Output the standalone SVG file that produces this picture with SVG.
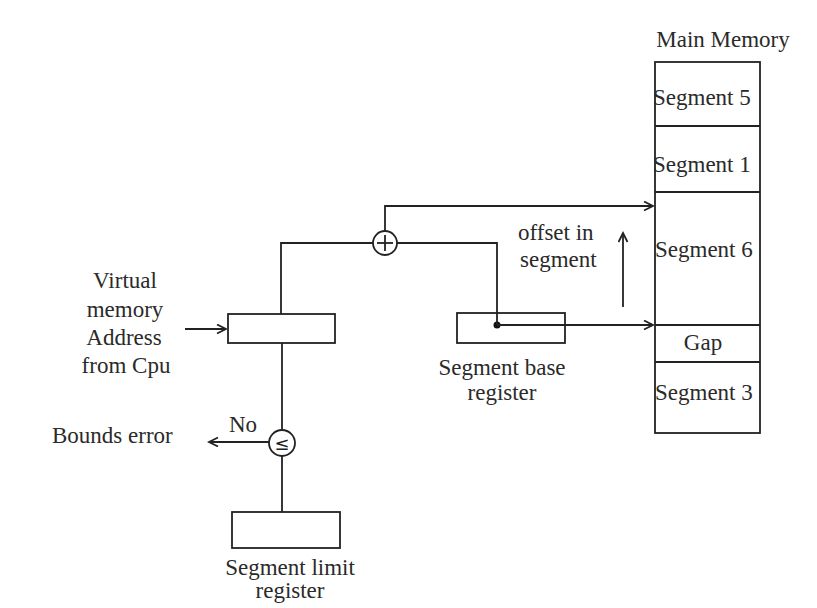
<svg xmlns="http://www.w3.org/2000/svg" width="817" height="608" viewBox="0 0 817 608">
  <style>
    .box { fill: none; stroke: #222; stroke-width: 1.8; }
    .wire { fill: none; stroke: #222; stroke-width: 1.8; }
    .lbl { font-family: "Liberation Serif", "Times New Roman", serif; font-size: 23px; fill: #2a2a2a; }
    .mid { text-anchor: middle; }
  </style>
  <defs>
    <marker id="arrow" markerUnits="userSpaceOnUse" markerWidth="12" markerHeight="12" refX="10" refY="5" orient="auto">
      <path d="M1,0.5 L10,5 L1,9.5" fill="none" stroke="#222" stroke-width="1.8"/>
    </marker>
  </defs>
  <rect width="817" height="608" fill="#ffffff"/>

  <!-- Main memory column -->
  <g id="main-memory">
    <text class="lbl mid" x="723" y="47">Main Memory</text>
    <rect class="box" x="655" y="62" width="105" height="371"/>
    <line class="wire" x1="655" y1="126" x2="760" y2="126"/>
    <line class="wire" x1="655" y1="192" x2="760" y2="192"/>
    <line class="wire" x1="655" y1="325" x2="760" y2="325"/>
    <line class="wire" x1="655" y1="362" x2="760" y2="362"/>
    <text class="lbl" x="653" y="105">Segment 5</text>
    <text class="lbl" x="653" y="172">Segment 1</text>
    <text class="lbl" x="655" y="257">Segment 6</text>
    <text class="lbl mid" x="703" y="350">Gap</text>
    <text class="lbl" x="655" y="400">Segment 3</text>
  </g>

  <!-- Virtual address register -->
  <g id="virtual-address">
    <text class="lbl mid" x="125" y="288">Virtual</text>
    <text class="lbl mid" x="125" y="317">memory</text>
    <text class="lbl mid" x="124" y="345">Address</text>
    <text class="lbl mid" x="126" y="373">from Cpu</text>
    <rect class="box" x="228" y="314" width="107" height="29"/>
  </g>

  <!-- Adder -->
  <g id="adder">
    <circle class="box" cx="385" cy="243" r="12"/>
    <line class="wire" x1="385" y1="235" x2="385" y2="251"/>
    <line class="wire" x1="377" y1="243" x2="393" y2="243"/>
  </g>

  <!-- Segment base register -->
  <g id="segment-base">
    <rect class="box" x="457" y="313" width="108" height="30"/>
    <circle cx="497" cy="325" r="3.5" fill="#111"/>
    <text class="lbl mid" x="502" y="375">Segment base</text>
    <text class="lbl mid" x="502" y="400">register</text>
  </g>

  <!-- Offset label -->
  <g id="offset-label">
    <text class="lbl" x="518" y="240">offset in</text>
    <text class="lbl" x="520" y="267">segment</text>
  </g>

  <!-- Bounds comparator -->
  <g id="comparator">
    <circle class="box" cx="282" cy="443" r="13"/>
    <text x="282" y="450" text-anchor="middle" font-family="DejaVu Sans, sans-serif" font-size="18" fill="#222">≤</text>
    <text class="lbl mid" x="243" y="432">No</text>
    <text class="lbl" x="52" y="443">Bounds error</text>
  </g>

  <!-- Segment limit register -->
  <g id="segment-limit">
    <rect class="box" x="232" y="512" width="108" height="36"/>
    <text class="lbl mid" x="290" y="575">Segment limit</text>
    <text class="lbl mid" x="290" y="598">register</text>
  </g>

  <!-- Connectors -->
  <g id="connectors">
    <line class="wire" x1="185" y1="329" x2="226" y2="329" marker-end="url(#arrow)"/>
    <polyline class="wire" points="281,314 281,243 373,243"/>
    <polyline class="wire" points="385,231 385,206 653,206" marker-end="url(#arrow)"/>
    <polyline class="wire" points="397,243 497,243 497,325"/>
    <line class="wire" x1="497" y1="325" x2="653" y2="325" marker-end="url(#arrow)"/>
    <line class="wire" x1="623" y1="307" x2="623" y2="233" marker-end="url(#arrow)"/>
    <line class="wire" x1="282" y1="343" x2="282" y2="430"/>
    <line class="wire" x1="269" y1="442" x2="209" y2="442" marker-end="url(#arrow)"/>
    <line class="wire" x1="282" y1="456" x2="282" y2="512"/>
  </g>
</svg>
